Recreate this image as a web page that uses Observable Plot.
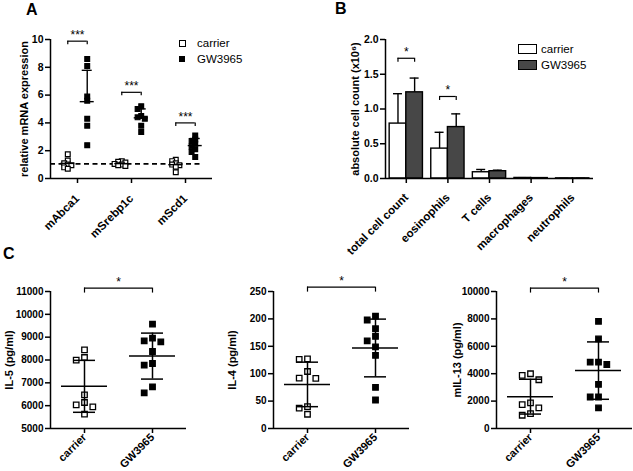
<!DOCTYPE html>
<html><head><meta charset="utf-8">
<script src="https://cdn.jsdelivr.net/npm/d3@7"></script>
<script src="https://cdn.jsdelivr.net/npm/@observablehq/plot@0.6"></script>
<style>
body{margin:0;background:#fff;}
#fig{position:relative;width:633px;height:471px;overflow:hidden;background:#fff;font-family:"Liberation Sans",Arial,Helvetica,sans-serif;color:#000;}
.p{position:absolute;}
.lab{position:absolute;font-weight:bold;font-size:16px;line-height:16px;}
.leg{position:absolute;font-size:11.5px;line-height:12px;white-space:nowrap;}
.sw{position:absolute;box-sizing:border-box;border:1.3px solid #000;}
</style></head><body><div id="fig"></div>
<script>
// ---------- Panel A: relative mRNA expression ----------
const genes = ["mAbca1", "mSrebp1c", "mScd1"];
const aCarrier = [
  [1.75, 1.3, 1.1, 1.0, 0.95, 0.8, 0.7],
  [1.25, 1.2, 1.15, 1.05, 1.0, 0.95, 0.9],
  [1.35, 1.25, 1.1, 1.0, 0.95, 0.85, 0.45]
];
const aGW = [
  [8.6, 8.1, 5.9, 5.6, 4.3, 3.8, 2.4],
  [5.2, 5.0, 4.5, 4.4, 4.3, 3.8, 3.35],
  [3.1, 2.8, 2.7, 2.5, 2.3, 2.1, 1.9, 1.55]
];
const aSig = ["***", "***", "***"];
const aSigLevel = [9.88, 6.2, 4.0];
const aBaseline = 1.05;
const aTicks = [0, 2, 4, 6, 8, 10];

// ---------- Panel B: absolute cell count ----------
const cells = ["total cell count", "eosinophils", "T cells", "macrophages", "neutrophils"];
const bCarrierMean = [0.79, 0.43, 0.09, 0.008, 0.002];
const bCarrierErr  = [0.43, 0.235, 0.04, 0.004, 0.001];
const bGWMean      = [1.24, 0.74, 0.105, 0.006, 0.002];
const bGWErr       = [0.205, 0.19, 0.015, 0.003, 0.001];
const bSig = ["*", "*"];
const bSigLevel = [1.73, 1.18];
const bTicks = [0, 0.5, 1.0, 1.5, 2.0];

// ---------- Panel C: cytokines ----------
const cGroups = ["carrier", "GW3965"];
const il5Carrier = [8445, 8110, 7993, 6474, 6139, 6036, 5949, 5628];
const il5GW = [9569, 8956, 8839, 8796, 8372, 7847, 7774, 6825, 6562];
const il4Carrier = [127, 126, 104, 92, 91.5, 40, 37, 26];
const il4GW = [205, 198, 182, 168, 160, 149, 133.5, 75, 52];
const il13Carrier = [3995, 3874, 3559, 1864, 1743, 1501, 1090, 968];
const il13GW = [7821, 6538, 4843, 4843, 4673, 3220, 2300, 2300, 1501];
const il5Ticks = [5000, 6000, 7000, 8000, 9000, 10000, 11000];
const il4Ticks = [0, 50, 100, 150, 200, 250];
const il13Ticks = [0, 2000, 4000, 6000, 8000, 10000];
const cSigLevel = [11150, 258, 10250];

const FONT = '"Liberation Sans", Arial, Helvetica, sans-serif';
const fig = document.getElementById("fig");
function place(el, left, top, w) {
  const d = document.createElement("div");
  d.className = "p"; d.style.left = left + "px"; d.style.top = top + "px"; d.style.width = w + "px";
  d.appendChild(el); fig.appendChild(d);
}
function addHTML(cls, text, left, top, extra) {
  const d = document.createElement("div");
  d.className = cls; d.style.left = left + "px"; d.style.top = top + "px";
  if (text) d.textContent = text;
  if (extra) Object.assign(d.style, extra);
  fig.appendChild(d);
}
// simple scatter-dot-plot spreading (horizontal offsets in px)
function swarm(vals, pxPerY, size, step) {
  const order = d3.range(vals.length).sort((a, b) => vals[b] - vals[a]);
  const placed = [], offs = new Array(vals.length).fill(0);
  for (const i of order) {
    for (const k of [0, -1, 1, -2, 2, -3, 3, -4, 4]) {
      const o = k * step;
      const clash = placed.some(p => Math.abs(p.o - o) < step * 0.9 && Math.abs(p.v - vals[i]) * pxPerY < size);
      if (!clash) { offs[i] = o; placed.push({o, v: vals[i]}); break; }
    }
  }
  return offs;
}
const intFmt = d => String(d);
const baseStyle = {fontFamily: FONT, fontSize: "10.5px", fontWeight: "bold", color: "#000", background: "transparent", overflow: "visible"};

// ================= Panel A =================
(function () {
  const W = 215, H = 240, ml = 50, mt = 39, mb = 62, mr = 3;
  const fw = W - ml - mr, fh = H - mt - mb;
  const pxX = fw / 3, pxY = fh / 10;
  const pts = [], stats = [], sig = [];
  genes.forEach((g, gi) => {
    [aCarrier[gi], aGW[gi]].forEach((vals, k) => {
      const cx = gi + 0.5 + (k ? 0.18 : -0.18);
      const offs = swarm(vals, pxY, 3.2, 3.6);
      vals.forEach((v, i) => pts.push({k, x: cx + offs[i] / pxX, y: v}));
      stats.push({k, x: cx, mean: d3.mean(vals), sd: d3.deviation(vals)});
    });
    sig.push({xa: gi + 0.5 - 0.18, xb: gi + 0.5 + 0.18, xm: gi + 0.5, y: aSigLevel[gi], drop: aSigLevel[gi] - 3.5 / pxY, t: aSig[gi]});
  });
  const gw = stats.filter(d => d.k === 1);
  const svg = Plot.plot({
    width: W, height: H, marginLeft: ml, marginTop: mt, marginBottom: mb, marginRight: mr,
    x: {domain: [0, 3]}, y: {domain: [0, 10]},
    style: baseStyle,
    marks: [
      Plot.ruleY([aBaseline], {y: d => d, x1: 0, x2: 2.78, strokeDasharray: "5,3.5", strokeWidth: 1.6, stroke: "#000"}),
      Plot.dot(pts, {x: "x", y: "y", symbol: "square", r: 2.7, fill: d => d.k ? "#000" : "#fff", stroke: "#000", strokeWidth: 1.2}),
      Plot.ruleY(stats, {y: "mean", x1: d => d.x - 7 / pxX, x2: d => d.x + 7 / pxX, strokeWidth: 1.4}),
      Plot.ruleX(gw, {x: "x", y1: "mean", y2: d => d.mean + d.sd, strokeWidth: 1.4}),
      Plot.ruleY(gw, {y: d => d.mean + d.sd, x1: d => d.x - 5 / pxX, x2: d => d.x + 5 / pxX, strokeWidth: 1.4}),
      Plot.ruleY(sig, {y: "y", x1: "xa", x2: "xb", strokeWidth: 1.2}),
      Plot.ruleX(sig, {x: "xa", y1: "y", y2: "drop", strokeWidth: 1.2}),
      Plot.ruleX(sig, {x: "xb", y1: "y", y2: "drop", strokeWidth: 1.2}),
      Plot.text(sig, {x: "xm", y: "y", text: "t", dy: -6, fontSize: 12, fontWeight: "normal"}),
      Plot.axisY({ticks: aTicks, tickFormat: intFmt, tickSize: 5, tickPadding: 2, strokeWidth: 1.5, label: null, fontSize: 10.5}),
      Plot.axisX({ticks: [0.5, 1.5, 2.5], tickFormat: d => genes[Math.floor(d)], tickRotate: -45, tickSize: 5, tickPadding: 13, strokeWidth: 1.5, label: null, fontSize: 11.5}),
      Plot.ruleX([0], {strokeWidth: 1.5}),
      Plot.ruleY([0], {strokeWidth: 1.5}),
      Plot.text(["relative mRNA expression"], {frameAnchor: "left", textAnchor: "middle", rotate: -90, dx: -26, fontSize: 11, fontWeight: "bold"})
    ]
  });
  place(svg, 0, 0, W);
})();

// ================= Panel B =================
(function () {
  const left = 300, W = 300, H = 240, ml = 85, mt = 39, mb = 62, mr = 7;
  const fw = W - ml - mr, fh = H - mt - mb;
  const pxX = fw / 5, pxY = fh / 2;
  const rows = [];
  cells.forEach((c, i) => {
    rows.push({k: 0, x1: i + 0.1, x2: i + 0.5, mean: bCarrierMean[i], err: bCarrierErr[i]});
    rows.push({k: 1, x1: i + 0.5, x2: i + 0.9, mean: bGWMean[i], err: bGWErr[i]});
  });
  const sig = bSigLevel.map((y, i) => ({xa: i + 0.3, xb: i + 0.7, xm: i + 0.5, y, drop: y - 4 / pxY, t: bSig[i]}));
  const svg = Plot.plot({
    width: W, height: H, marginLeft: ml, marginTop: mt, marginBottom: mb, marginRight: mr,
    x: {domain: [0, 5]}, y: {domain: [0, 2]},
    style: baseStyle,
    marks: [
      Plot.ruleX(rows, {x: d => (d.x1 + d.x2) / 2, y1: "mean", y2: d => d.mean + d.err, strokeWidth: 1.4}),
      Plot.ruleY(rows, {y: d => d.mean + d.err, x1: d => (d.x1 + d.x2) / 2 - 4.5 / pxX, x2: d => (d.x1 + d.x2) / 2 + 4.5 / pxX, strokeWidth: 1.4}),
      Plot.rect(rows, {x1: "x1", x2: "x2", y1: 0, y2: "mean", fill: d => d.k ? "#474747" : "#fff", stroke: "#000", strokeWidth: 1.4}),
      Plot.ruleY(sig, {y: "y", x1: "xa", x2: "xb", strokeWidth: 1.2}),
      Plot.ruleX(sig, {x: "xa", y1: "y", y2: "drop", strokeWidth: 1.2}),
      Plot.ruleX(sig, {x: "xb", y1: "y", y2: "drop", strokeWidth: 1.2}),
      Plot.text(sig, {x: "xm", y: "y", text: "t", dy: -6, fontSize: 12, fontWeight: "normal"}),
      Plot.axisY({ticks: bTicks, tickFormat: d3.format(".1f"), tickSize: 5, tickPadding: 2, strokeWidth: 1.5, label: null, fontSize: 10.5}),
      Plot.axisX({ticks: [0.5, 1.5, 2.5, 3.5, 4.5], tickFormat: d => cells[Math.floor(d)], tickRotate: -45, tickSize: 5, tickPadding: 12, strokeWidth: 1.5, label: null, fontSize: 11.5}),
      Plot.ruleX([0], {strokeWidth: 1.5}),
      Plot.ruleY([0], {strokeWidth: 1.5}),
      Plot.text(["absolute cell count (x10\u2076)"], {frameAnchor: "left", textAnchor: "middle", rotate: -90, dx: -30, fontSize: 11, fontWeight: "bold"})
    ]
  });
  place(svg, left, 0, W);
})();

// ================= Panel C =================
function cPanel({left, ml, W, carrier, gw, yDomain, yTicks, label, labelDx, sigLevel}) {
  const top = 250, H = 221, mt = 41, mb = 43, mr = W - ml - 136;
  const fw = W - ml - mr, fh = H - mt - mb;
  const pxX = fw / 2, pxY = fh / (yDomain[1] - yDomain[0]);
  const pts = [];
  const stats = [carrier, gw].map((vals, k) => {
    const cx = k + 0.5;
    const offs = swarm(vals, pxY, 7, 8.3);
    vals.forEach((v, i) => pts.push({k, x: cx + offs[i] / pxX, y: v}));
    return {k, x: cx, mean: d3.mean(vals), sd: d3.deviation(vals)};
  });
  const sig = [{xa: 0.5, xb: 1.5, xm: 1, y: sigLevel, drop: sigLevel - 5 / pxY, t: "*"}];
  const svg = Plot.plot({
    width: W, height: H, marginLeft: ml, marginTop: mt, marginBottom: mb, marginRight: mr,
    x: {domain: [0, 2]}, y: {domain: yDomain},
    style: baseStyle,
    marks: [
      Plot.dot(pts, {x: "x", y: "y", symbol: "square", r: 3.1, fill: d => d.k ? "#000" : "#fff", stroke: "#000", strokeWidth: 1.3}),
      Plot.ruleY(stats, {y: "mean", x1: d => d.x - 23 / pxX, x2: d => d.x + 23 / pxX, strokeWidth: 1.5}),
      Plot.ruleX(stats, {x: "x", y1: d => d.mean - d.sd, y2: d => d.mean + d.sd, strokeWidth: 1.5}),
      Plot.ruleY(stats, {y: d => d.mean + d.sd, x1: d => d.x - 11 / pxX, x2: d => d.x + 11 / pxX, strokeWidth: 1.5}),
      Plot.ruleY(stats, {y: d => d.mean - d.sd, x1: d => d.x - 11 / pxX, x2: d => d.x + 11 / pxX, strokeWidth: 1.5}),
      Plot.ruleY(sig, {y: "y", x1: "xa", x2: "xb", strokeWidth: 1.2}),
      Plot.ruleX(sig, {x: "xa", y1: "y", y2: "drop", strokeWidth: 1.2}),
      Plot.ruleX(sig, {x: "xb", y1: "y", y2: "drop", strokeWidth: 1.2}),
      Plot.text(sig, {x: "xm", y: "y", text: "t", dy: -6, fontSize: 12, fontWeight: "normal"}),
      Plot.axisY({ticks: yTicks, tickFormat: intFmt, tickSize: 5, tickPadding: 2, strokeWidth: 1.5, label: null, fontSize: 10}),
      Plot.axisX({ticks: [0.5, 1.5], tickFormat: d => cGroups[Math.floor(d)], tickRotate: -45, tickSize: 5, tickPadding: 2, strokeWidth: 1.5, label: null, fontSize: 11}),
      Plot.ruleX([0], {strokeWidth: 1.5}),
      Plot.ruleY([yDomain[0]], {strokeWidth: 1.5}),
      Plot.text([label], {frameAnchor: "left", textAnchor: "middle", rotate: -90, dx: labelDx, fontSize: 11, fontWeight: "bold"})
    ]
  });
  place(svg, left, top, W);
}
cPanel({left: 0, ml: 50, W: 190, carrier: il5Carrier, gw: il5GW, yDomain: [5000, 11000], yTicks: il5Ticks, label: "IL-5 (pg/ml)", labelDx: -41, sigLevel: cSigLevel[0]});
cPanel({left: 210, ml: 63, W: 203, carrier: il4Carrier, gw: il4GW, yDomain: [0, 250], yTicks: il4Ticks, label: "IL-4 (pg/ml)", labelDx: -41, sigLevel: cSigLevel[1]});
cPanel({left: 420, ml: 76, W: 213, carrier: il13Carrier, gw: il13GW, yDomain: [0, 10000], yTicks: il13Ticks, label: "mIL-13 (pg/ml)", labelDx: -39, sigLevel: cSigLevel[2]});

// ---------- panel letters ----------
addHTML("lab", "A", 26, 2);
addHTML("lab", "B", 335, 1);
addHTML("lab", "C", 3, 246);

// ---------- legends ----------
addHTML("sw", "", 179, 40, {width: "7px", height: "7px", background: "#fff"});
addHTML("sw", "", 179, 56, {width: "6px", height: "6px", background: "#000"});
addHTML("leg", "carrier", 197, 37);
addHTML("leg", "GW3965", 197, 53);
addHTML("sw", "", 518, 44, {width: "19px", height: "10px", background: "#fff"});
addHTML("sw", "", 518, 60, {width: "19px", height: "10px", background: "#474747"});
addHTML("leg", "carrier", 541, 43);
addHTML("leg", "GW3965", 541, 59);
</script>
</body></html>
